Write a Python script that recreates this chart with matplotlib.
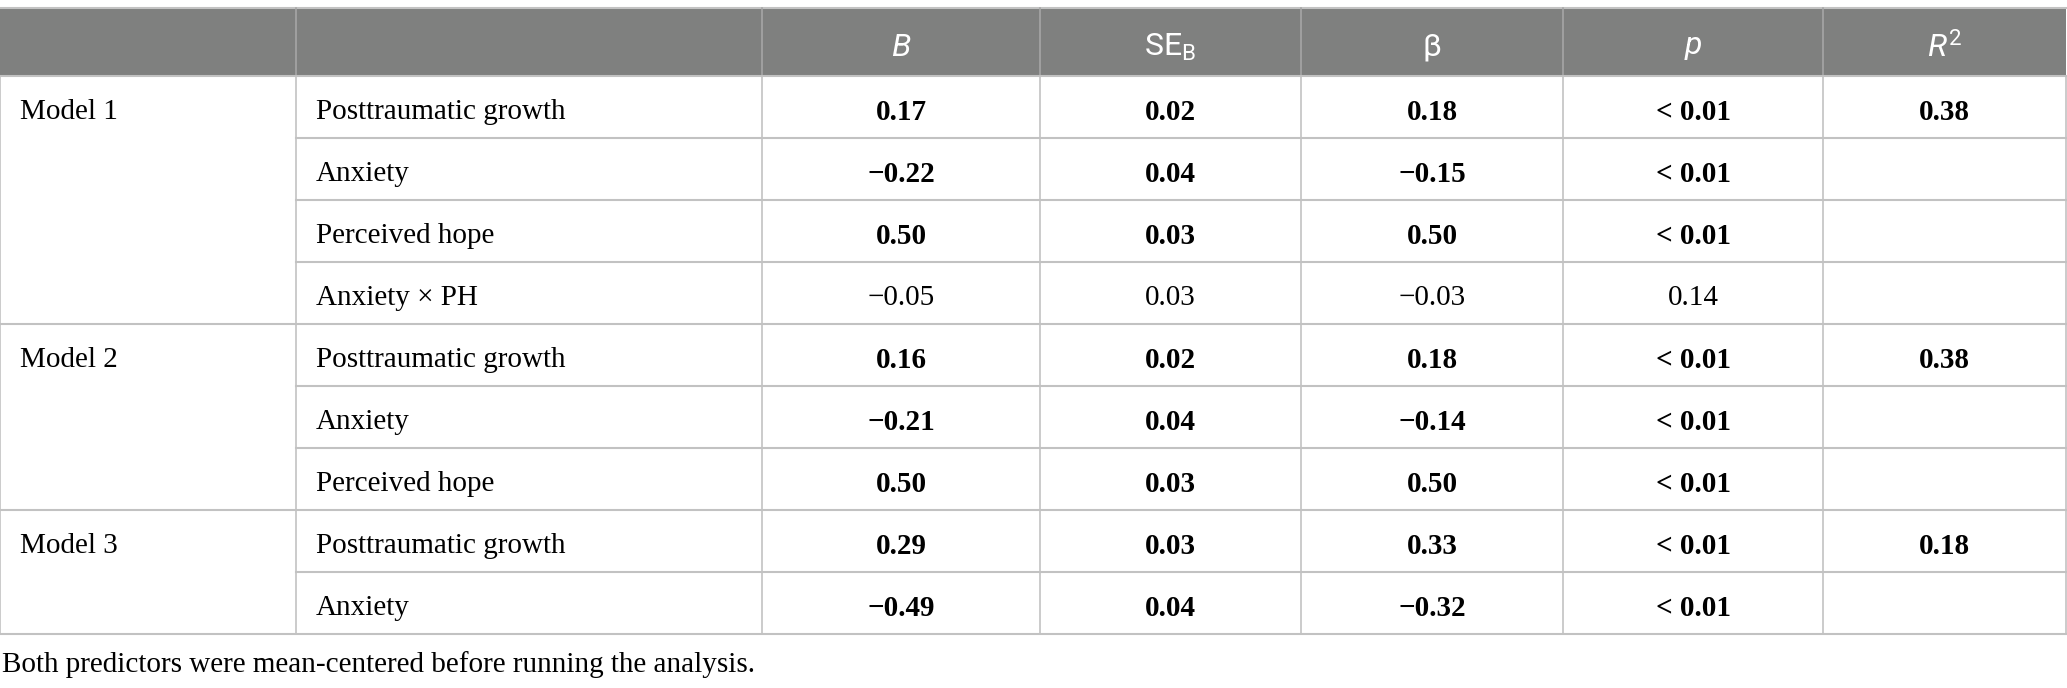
import matplotlib.pyplot as plt
from matplotlib.patches import Rectangle

# table content
headers = ["", "", "$B$", r"$\mathrm{SE}_\mathrm{B}$", "β", "$p$", "$R^2$"]
models = ["Model 1", "Model 2", "Model 3"]
model_sizes = [4, 3, 2]
predictors = ["Posttraumatic growth", "Anxiety", "Perceived hope", "Anxiety × PH",
              "Posttraumatic growth", "Anxiety", "Perceived hope",
              "Posttraumatic growth", "Anxiety"]
b_vals = [0.17, -0.22, 0.50, -0.05, 0.16, -0.21, 0.50, 0.29, -0.49]
se_vals = [0.02, 0.04, 0.03, 0.03, 0.02, 0.04, 0.03, 0.03, 0.04]
beta_vals = [0.18, -0.15, 0.50, -0.03, 0.18, -0.14, 0.50, 0.33, -0.32]
p_vals = ["< 0.01", "< 0.01", "< 0.01", "0.14", "< 0.01", "< 0.01", "< 0.01", "< 0.01", "< 0.01"]
r2_vals = [0.38, None, None, None, 0.38, None, None, 0.18, None]
bold_rows = [True, True, True, False, True, True, True, True, True]
footnote = "Both predictors were mean-centered before running the analysis."

plt.rcParams['mathtext.fontset'] = 'custom'
plt.rcParams['mathtext.rm'] = 'Roboto'
plt.rcParams['mathtext.it'] = 'Roboto:italic'


def fmt(v):
    if v is None:
        return ""
    return f"{v:.2f}".replace("-", "\u2212")


# layout in pixels
W, H = 2067, 688
col_x = [0, 296, 762, 1040, 1301, 1563, 1823, 2066]
top, head_bot, bottom = 8, 76, 634
n_rows = len(predictors)
row_h = (bottom - head_bot) / n_rows
header_bg = '#7f807f'
line_c = '#c2c2c2'
body_fs = 21
dy = 5  # text sits a little below the cell middle

fig = plt.figure(figsize=(W / 100, H / 100), dpi=100)
ax = fig.add_axes([0, 0, 1, 1])
ax.set_xlim(0, W)
ax.set_ylim(H, 0)
ax.axis('off')

# header band
ax.add_patch(Rectangle((col_x[0], top), col_x[-1] - col_x[0], head_bot - top,
                       facecolor=header_bg, edgecolor='none'))
ax.plot([col_x[0], col_x[-1]], [top, top], color=line_c, lw=1.5)
for x in col_x[1:-1]:
    ax.plot([x, x], [top, head_bot], color='#a6a6a6', lw=1.2)
for i, h in enumerate(headers):
    if h:
        ax.text((col_x[i] + col_x[i + 1]) / 2, (top + head_bot) / 2 + dy, h,
                ha='center', va='center', color='white', fontsize=23, family='Roboto')

# grid lines
row_y = [head_bot + row_h * k for k in range(n_rows + 1)]
group_ends = [sum(model_sizes[:k + 1]) for k in range(len(model_sizes))]
for k, y in enumerate(row_y):
    x0 = col_x[0] if (k == 0 or k in group_ends) else col_x[1]
    ax.plot([x0, col_x[-1]], [y, y], color=line_c, lw=1.5)
for x in col_x:
    ax.plot([x, x], [head_bot, bottom], color=line_c, lw=1.2)

# model labels
start = 0
for name, size in zip(models, model_sizes):
    ax.text(col_x[0] + 20, head_bot + row_h * (start + 0.5) + dy, name,
            ha='left', va='center', fontsize=body_fs, family='Liberation Serif')
    start += size

# body cells
for r in range(n_rows):
    yc = head_bot + row_h * (r + 0.5) + dy
    wt = 'bold' if bold_rows[r] else 'normal'
    ax.text(col_x[1] + 20, yc, predictors[r], ha='left', va='center',
            fontsize=body_fs, family='Liberation Serif')
    cells = [fmt(b_vals[r]), fmt(se_vals[r]), fmt(beta_vals[r]), p_vals[r], fmt(r2_vals[r])]
    for c, s in enumerate(cells):
        ax.text((col_x[c + 2] + col_x[c + 3]) / 2, yc, s, ha='center', va='center',
                fontsize=body_fs, family='Liberation Serif', fontweight=wt)

ax.text(2, 665, footnote, ha='left', va='center', fontsize=body_fs, family='Liberation Serif')

fig.savefig('out.png', dpi=100)
